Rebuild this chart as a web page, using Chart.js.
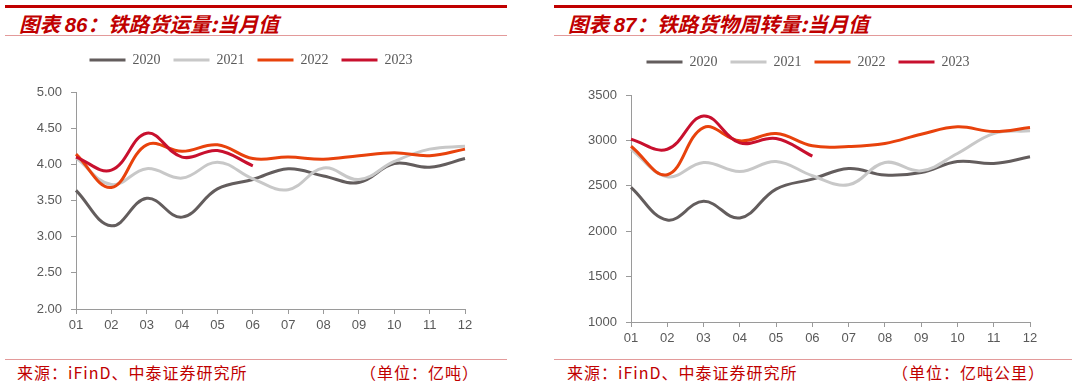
<!DOCTYPE html>
<html>
<head>
<meta charset="utf-8">
<script src="https://cdn.jsdelivr.net/npm/chart.js@4.4.0/dist/chart.umd.min.js"></script>
<style>
  body { margin: 0; width: 1078px; height: 386px; background: #fff; position: relative; overflow: hidden; font-family: "Noto Sans CJK SC", sans-serif; }
  .topline { position: absolute; top: 5px; height: 3px; background: #c00000; }
  .thin { position: absolute; height: 1px; background: #e39a9a; }
  .title { position: absolute; top: 9px; font-size: 20.5px; line-height: 28px; font-weight: bold; font-style: italic; color: #c00000; white-space: nowrap; }
  .title b { font-family: "Liberation Sans", Arial, sans-serif; }
  .src { position: absolute; top: 361px; font-size: 16px; line-height: 22px; letter-spacing: 1px; color: #c00000; white-space: nowrap; }
  canvas { position: absolute; top: 40px; }
</style>
</head>
<body>
<div class="topline" style="left:5px;width:502px"></div>
<div class="topline" style="left:554px;width:518px"></div>
<div class="title" style="left:19px">图表 <b>86</b>：铁路货运量:当月值</div>
<div class="title" style="left:568px">图表 <b>87</b>：铁路货物周转量:当月值</div>
<div class="thin" style="left:5px;width:502px;top:35px"></div>
<div class="thin" style="left:554px;width:518px;top:35px"></div>
<div class="thin" style="left:5px;width:502px;top:359px"></div>
<div class="thin" style="left:554px;width:518px;top:359px"></div>
<div class="src" style="left:17px">来源：iFinD、中泰证券研究所</div>
<div class="src" style="right:599px">（单位：亿吨）</div>
<div class="src" style="left:567px">来源：iFinD、中泰证券研究所</div>
<div class="src" style="right:33px">（单位：亿吨公里）</div>

<canvas id="volume" width="502" height="310" style="left:5px"></canvas>
<canvas id="turnover" width="518" height="310" style="left:554px"></canvas>

<script>
const months = ['01', '02', '03', '04', '05', '06', '07', '08', '09', '10', '11', '12'];
const years = ['2020', '2021', '2022', '2023'];
const colors = ['#635d5d', '#c8c8c8', '#e8420c', '#c8102e'];

// 铁路货运量 (亿吨)
const volume2020 = [3.64, 3.15, 3.53, 3.27, 3.66, 3.79, 3.94, 3.84, 3.75, 4.01, 3.96, 4.08];
const volume2021 = [4.09, 3.72, 3.94, 3.81, 4.03, 3.80, 3.65, 3.95, 3.79, 4.04, 4.21, 4.25];
const volume2022 = [4.14, 3.68, 4.27, 4.18, 4.27, 4.08, 4.10, 4.07, 4.12, 4.16, 4.12, 4.21];
const volume2023 = [4.10, 3.92, 4.43, 4.10, 4.19, 3.98];

// 铁路货物周转量 (亿吨公里)
const turnover2020 = [2483, 2124, 2329, 2146, 2464, 2574, 2691, 2618, 2647, 2768, 2746, 2819];
const turnover2021 = [2903, 2600, 2757, 2658, 2768, 2611, 2512, 2757, 2665, 2856, 3075, 3105];
const turnover2022 = [2936, 2622, 3141, 2995, 3075, 2940, 2933, 2966, 3068, 3149, 3097, 3141];
const turnover2023 = [3013, 2903, 3269, 2973, 3020, 2827];

// leave some room between the legend and the plot
function legendGap(gap) {
  return {
    id: 'legendGap',
    afterInit(chart) {
      const fit = chart.legend.fit;
      chart.legend.fit = function () {
        fit.call(this);
        this.height += gap;
      };
    }
  };
}

function makeDatasets(series) {
  return series.map((data, i) => ({
    label: years[i],
    data: data,
    borderColor: colors[i],
    backgroundColor: colors[i],
    borderWidth: 3,
    pointRadius: 0,
    tension: 0.4,
    order: 3 - i
  }));
}

function makeChart(id, series, yOpts, yWidth, xHeight, gap, top) {
  const axisColor = '#9a9a9a';
  const tickFont = { family: '"Liberation Sans", Arial, sans-serif', size: 13 };
  return new Chart(document.getElementById(id), {
    type: 'line',
    data: { labels: months, datasets: makeDatasets(series) },
    plugins: [legendGap(gap)],
    options: {
      responsive: false,
      animation: false,
      layout: { padding: { top: top, right: 42, bottom: 0, left: 32 } },
      plugins: {
        tooltip: { enabled: false },
        legend: {
          position: 'top',
          labels: {
            boxWidth: 36,
            boxHeight: 3,
            padding: 13,
            color: '#595959',
            font: { family: '"Liberation Serif", "Times New Roman", serif', size: 14 },
            generateLabels: chart => chart.data.datasets.map((d, i) => ({
              text: d.label,
              fillStyle: d.borderColor,
              strokeStyle: d.borderColor,
              lineWidth: 0,
              fontColor: '#595959',
              datasetIndex: i
            }))
          }
        }
      },
      scales: {
        x: {
          offset: false,
          grid: { drawOnChartArea: false, drawTicks: true, tickLength: 5, color: axisColor },
          border: { color: axisColor },
          ticks: { color: '#595959', font: tickFont, padding: 4, maxRotation: 0, autoSkip: false },
          afterFit: s => { s.height = xHeight; }
        },
        y: Object.assign({
          grid: { drawOnChartArea: false, drawTicks: true, tickLength: 5, color: axisColor },
          border: { color: axisColor },
          afterFit: s => { s.width = yWidth; }
        }, yOpts)
      }
    }
  });
}

makeChart('volume', [volume2020, volume2021, volume2022, volume2023], {
  min: 2, max: 5,
  ticks: { stepSize: 0.5, color: '#595959', padding: 9, font: { family: '"Liberation Sans", Arial, sans-serif', size: 13 }, callback: v => v.toFixed(2) }
}, 39, 41, 15, 0);

makeChart('turnover', [turnover2020, turnover2021, turnover2022, turnover2023], {
  min: 1000, max: 3500,
  ticks: { stepSize: 500, color: '#595959', padding: 9, font: { family: '"Liberation Sans", Arial, sans-serif', size: 13 }, callback: v => String(v) }
}, 45, 28, 16, 2);
</script>
</body>
</html>
